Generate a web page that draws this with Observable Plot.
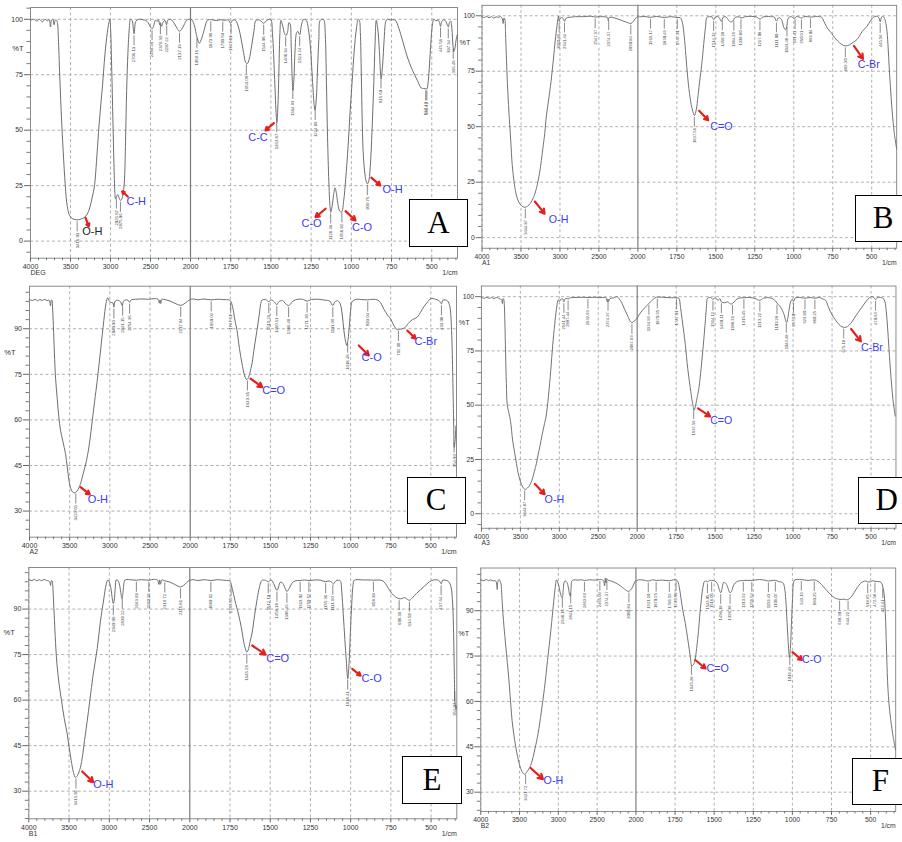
<!DOCTYPE html>
<html><head><meta charset="utf-8">
<script src="https://cdn.jsdelivr.net/npm/d3@7"></script>
<script src="https://cdn.jsdelivr.net/npm/@observablehq/plot@0.6"></script>
<style>
html,body{margin:0;padding:0;background:#fff;}
#page{position:relative;width:902px;height:842px;overflow:hidden;background:#fff;font-family:"Liberation Sans",Arial,sans-serif;}
.panel{position:absolute;}
.panel svg text{font-family:"Liberation Sans",Arial,sans-serif;}
.letter{position:absolute;border:1.2px solid #000;background:#fff;font-family:"Liberation Serif","Times New Roman",serif;font-size:31px;display:flex;align-items:center;justify-content:center;box-sizing:border-box;color:#000;}
</style></head><body><div id="page"></div><script>
// ---------- Panel A (DEG) ----------
const wnA = [4000,3960,3920,3890,3850,3820,3790,3765,3750,3738,3720,3705,3692,3675,3662,3650,3632,3612,3592,3565,3540,3510,3470,3420,3380,3330,3290,3260,3230,3200,3175,3150,3125,3100,3070,3040,3020,3008,2998,2985,2970,2957,2945,2937,2922,2909,2892,2875,2858,2840,2825,2812,2798,2782,2765,2750,2730,2715,2706,2697,2685,2650,2600,2560,2530,2500,2480,2460,2440,2415,2400,2385,2376,2362,2345,2320,2300,2285,2260,2235,2200,2165,2137,2110,2080,2050,2020,2000,1990,1975,1960,1945,1930,1912,1895,1870,1840,1810,1790,1765,1751,1738,1720,1700,1685,1670,1657,1647,1635,1620,1605,1594,1570,1545,1525,1502,1490,1478,1468,1463,1457,1450,1444,1438,1425,1415,1406,1396,1388,1381,1374,1368,1363,1357,1350,1340,1332,1321,1310,1296,1280,1268,1255,1242,1232,1226,1218,1210,1202,1194,1180,1170,1162,1155,1148,1140,1133,1128,1120,1110,1102,1094,1084,1072,1060,1048,1035,1020,1008,995,982,968,957,950,944,938,932,925,915,908,900,892,884,876,868,860,853,845,836,826,815,806,796,786,777,760,740,725,705,680,652,620,590,565,550,537,530,522,512,503,495,487,475,460,452,445,438,425,412,404,397,390,382,375,368,362,356,348,341];
const tA = [99.5,100,99.2,100,98.8,100,99.3,99.8,96.5,99.5,100,97.5,99.5,99.6,98,90,72,55,41,25,15.5,11.5,10,9.6,9.8,10.6,12.2,15,19.5,25,36,49,60,70,84,94,98.5,100,95,78,55,35,22,19,20.3,21,19.5,18.3,19,22,28,45,68,85,96,100,99.5,96,93.4,96,99,100,99.8,99.5,98.5,96.5,95.7,97,99.5,99,99.8,97.5,98.5,96.8,98.5,99.5,97.5,99.5,100,99.6,98,95.8,94.6,95.5,97.5,99.5,100,100,99.6,97,92,89.2,91.5,96,99.5,99.8,99.4,99.8,99.5,99.7,98.2,99.6,99.5,96,91,85,80.5,80,82,88,95,99.4,99.6,98.2,99.5,100,93,75,58,53.5,60,78,94,99.5,96.5,93.5,92.7,94.5,98.5,98,88,74,68,73,86,94,94.5,93,97.5,100,99.5,96,88,73,62,59,64,78,91,99.5,100,99.5,93,72,47,27,16,13,15.5,21,24,22,17,13.5,13.2,18,28,43,58,72,86,96,100,99.5,94,75,53,38,30,27,25.8,27,32,42,56,72,88,99.5,96,86,73.2,79,91,99,100,99.7,99.8,99.4,96,90,83,77,72.5,69,68.8,68.6,68.6,72,82,92,98,100,99.3,99.6,98.5,96.8,99,99.8,99,97.5,96.5,98.5,99.2,96,88,85.5,87,91,93];
const peaksA = [3416.93,2926.87,2875.96,2706.13,2480.46,2376.30,2297.22,2137.13,1960.16,1873.90,1799.59,1747.81,1653.00,1544.98,1463.87,1408.34,1364.03,1321.24,1224.80,1128.36,1058.92,900.76,815.69,537.43,530.42,445.58,397.34,366.48];
const notesA = [
  {label:"O-H", color:"#222222", x1:3312, y1:10.5, x2:3271, y2:6.6, tx:3354, ty:4.4},
  {label:"C-H", color:"#3c3cf0", x1:2784, y1:20.1, x2:2854, y2:22.4, tx:2800, ty:18.0},
  {label:"C-C", color:"#3c3cf0", x1:1482, y1:53.2, x2:1534, y2:49.9, tx:1641, ty:46.8},
  {label:"C-O", color:"#3c3cf0", x1:1160, y1:14.6, x2:1223, y2:10.8, tx:1310, ty:8.1},
  {label:"C-O", color:"#3c3cf0", x1:1036, y1:13.5, x2:974, y2:9.3, tx:996, ty:6.3},
  {label:"O-H", color:"#3c3cf0", x1:876, y1:28.6, x2:820, y2:25.1, tx:806, ty:23.4}
];

// ---------- Panel B (A1) ----------
const wnB = [4000,3970,3940,3910,3880,3850,3820,3790,3760,3740,3729,3718,3708,3698,3688,3675,3660,3645,3630,3613,3590,3565,3540,3510,3475,3446,3415,3380,3340,3300,3260,3220,3195,3177,3150,3114,3085,3060,3040,3025,3019,3011,3000,2980,2960,2941,2925,2900,2850,2800,2700,2600,2547,2500,2420,2390,2380,2370,2330,2280,2230,2180,2130,2091,2060,2030,2005,1990,1960,1919,1880,1830,1790,1747,1728,1715,1703,1692,1680,1665,1650,1637,1626,1614,1602,1591,1578,1566,1557,1540,1525,1514,1500,1480,1465,1452,1435,1418,1405,1392,1375,1350,1338,1310,1270,1240,1217,1195,1150,1125,1111,1098,1080,1065,1053,1044,1035,1015,996,985,965,950,935,910,888,860,835,822,800,780,759,738,718,695,669,645,620,593,560,531,505,490,470,455,445,437,425,412,402,394,388,380,370,355,340];
const tB = [99.5,99.2,99.7,99.1,99.6,98.9,99.5,99.3,99.6,98.7,96.5,99,98.5,92,82,70,60,51,43,33,25.5,20,17,15,13.9,13.7,14.2,15.5,18,22.5,29.5,40,47,54,61,70.4,80,89,95,98.8,99.8,97.5,98.6,99.2,98.8,97.5,98.8,99.2,99.4,99.6,99.6,99.8,99.4,99.6,99.5,99.2,97.8,99.2,99.3,98.8,98.2,97.5,96.9,96.5,97.4,98.8,99.6,99.5,99.7,99.3,99.7,99.2,99.6,99.2,99.1,97,91,82,72,63,57.5,55,57.5,64,71.5,77.6,87,95,99.3,99.6,99.5,98.2,99.6,99.3,97.5,99.4,99.5,98,97.2,97.6,99.3,99.5,99,99.6,99.7,99.5,98.5,99.5,99.6,99.4,97.6,99.1,98.4,95,93.7,95.5,99,99.6,98.6,99.6,99.4,98.9,99.6,99.6,99.4,99.7,99.6,99.4,96.5,94,92.3,90.2,88.6,87.2,86.4,86.8,88,89.4,93,95.2,98,99.3,99.8,99.2,97.2,99.4,99.6,97.5,93,85,77,68,58,47,40];
const peaksB = [3444.87,3010.89,2941.44,2547.97,2374.37,2090.84,1919.17,1830.49,1747.31,1637.56,1514.12,1458.18,1384.39,1338.80,1217.08,1111.00,1043.48,991.41,950.91,893.04,669.30,445.56];
const notesB = [
  {label:"C=O", color:"#3c3cf0", x1:1607, y1:57.2, x2:1549, y2:52.9, tx:1535, ty:50.2},
  {label:"O-H", color:"#3c3cf0", x1:3322, y1:16.3, x2:3197, y2:10.8, tx:3143, ty:8.2},
  {label:"C-Br", color:"#3c3cf0", x1:614, y1:86.4, x2:556, y2:80.6, tx:589, ty:78.1}
];

// ---------- Panel C (A2) ----------
const wnC = [4000,3960,3930,3900,3870,3840,3810,3780,3760,3745,3739,3731,3722,3714,3703,3690,3675,3655,3635,3614,3585,3552,3530,3510,3485,3460,3440,3410,3380,3365,3330,3290,3250,3219,3190,3157,3115,3075,3048,3027,3010,2990,2962,2950,2937,2915,2890,2865,2846,2830,2800,2770,2754,2735,2680,2600,2520,2450,2400,2385,2376,2366,2352,2300,2250,2200,2160,2118,2080,2040,2010,2000,1980,1950,1920,1869,1830,1790,1760,1748,1735,1720,1708,1693,1677,1663,1649,1640,1628,1615,1600,1584,1570,1560,1553,1530,1510,1495,1475,1460,1448,1425,1405,1386,1370,1345,1300,1271,1245,1200,1160,1130,1111,1097,1080,1065,1052,1042,1032,1024,1016,1008,1000,992,980,960,930,893,860,830,814,790,770,751,730,710,690,670,658,640,615,585,560,540,522,500,470,448,434,425,410,395,382,372,364,358,354,349,344];
const tC = [99.6,99.3,99.7,99.2,99.6,99.3,99.7,99.2,99.5,98.6,97.5,99.3,99.5,97.5,91,82,73.5,67,61,56.6,53,48.9,44.5,40.3,37.3,36.2,36,36.5,38,39,42.5,46.7,53,59.8,66,73,83,92.7,98.3,100.2,99.3,98.7,98.5,97.1,98.9,99.4,99.3,98.8,97.6,99.1,99.5,99.3,98.7,99.5,99.7,99.8,99.7,99.9,99.7,98.4,99.5,98.3,99.7,99.5,99.1,98.5,98,97.7,98.1,98.9,99.5,99.6,99.8,99.5,99.8,99.5,99.7,99.6,99.5,99.1,97,92.5,89.4,83.5,78.5,75,73.3,73.6,75.5,78.5,84,89.4,94.5,98.3,99.4,99.6,98.9,99.5,98.8,97.9,98.9,99.3,98.2,97.6,98.5,99.5,99.7,99.1,99.6,99.7,99.4,99.1,97.6,98.9,99.2,98.2,94.5,89.5,86,84.5,86.5,91,96,98.8,99.4,99.7,99.6,99.5,99.7,99.4,98.6,96.2,94.5,93.3,91,89.7,89.8,90.2,90.5,91.8,93,93.8,95.8,97.5,98.7,99.9,99.7,99.2,98.2,99.4,99.5,99.1,97.5,91,76,60,51,53,58];
const peaksC = [3423.65,2949.90,2841.15,2754.36,2117.84,1869.02,1747.51,1643.35,1510.26,1460.11,1386.48,1271.30,1111.00,1018.48,893.04,702.08,433.98,354.90];
const notesC = [
  {label:"C=O", color:"#3c3cf0", x1:1624, y1:73.6, x2:1551, y2:70.8, tx:1551, ty:69.7},
  {label:"C-O", color:"#3c3cf0", x1:949, y1:84.5, x2:887, y2:81.2, tx:932, ty:80.5},
  {label:"C-Br", color:"#3c3cf0", x1:647, y1:89.4, x2:595, y2:86.7, tx:602, ty:85.9},
  {label:"O-H", color:"#3c3cf0", x1:3365, y1:37.9, x2:3250, y2:35.5, tx:3274, ty:33.8}
];

// ---------- Panel D (A3) ----------
const wnD = [4000,3960,3930,3900,3870,3840,3810,3780,3755,3740,3731,3722,3714,3706,3699,3690,3680,3668,3648,3626,3600,3575,3550,3530,3501,3470,3440,3410,3380,3356,3320,3295,3273,3250,3220,3190,3169,3140,3110,3085,3060,3038,3020,3010,2995,2975,2955,2941,2925,2900,2887,2860,2800,2700,2632,2550,2450,2400,2385,2376,2366,2350,2300,2260,2235,2200,2160,2120,2090,2067,2040,2010,1980,1950,1920,1895,1877,1830,1790,1747,1733,1722,1712,1700,1691,1676,1660,1645,1634,1624,1614,1603,1590,1576,1562,1555,1549,1530,1514,1500,1482,1470,1460,1440,1420,1400,1388,1370,1350,1315,1280,1245,1213,1190,1150,1121,1103,1083,1068,1058,1049,1041,1034,1025,1015,1006,997,987,960,923,890,860,830,805,791,775,760,740,715,695,671,650,630,610,585,560,530,510,498,482,470,458,440,425,412,402,394,385,372,360,345];
const tD = [99.6,99.3,99.7,99.2,99.6,99.1,99.6,99.3,98.8,98.6,96.8,99.1,98.8,96,88,74,60,50,46.5,42.5,34,28.5,23,19,15,12.3,11.2,11.8,13.2,15,19.5,23,27,31,36.5,41.5,45,54,66,77.6,87,94,98,98.6,97.8,99,98.9,97.6,99,99.2,98.9,99.5,99.6,99.7,99.6,99.7,99.6,99.4,97.6,98.9,97.8,99.1,99.5,100,99.2,97.3,94,91,88.7,88,88.8,89.6,92.5,95,97.2,99,99.7,99.7,99.5,99.5,99.3,95,89.5,83,77.6,67,58.2,51,47.8,50.5,54,58.5,67,77.6,89.5,96,99.3,99.6,98.8,99.5,98.3,99.1,97.6,97.2,97.6,96.6,96.9,98.3,99.3,99.5,99.6,99.2,98.3,99.3,99.5,98.6,97,95.5,93.5,91.8,89.3,88.1,90,94.3,97.8,98.8,97.8,99.3,99.6,99.3,99.6,99.3,99.6,98.8,98.3,95.5,93,90.5,88,86.5,85.8,86.3,87.7,89.8,92.5,95,98,99.5,100,99.6,98.6,99.7,99.6,99.4,98,93,86,76,63,53,45];
const peaksD = [3444.87,2941.44,2887.44,2632.63,2374.37,2067.69,1924.96,1870.95,1747.51,1637.56,1514.12,1460.11,1388.39,1315.45,1213.22,1103.28,1043.48,997.20,923.80,860.25,675.18,470.63];
const notesD = [
  {label:"C=O", color:"#3c3cf0", x1:1610, y1:48.5, x2:1532, y2:44.8, tx:1532, ty:43},
  {label:"C-Br", color:"#3c3cf0", x1:628, y1:85.1, x2:565, y2:79.4, tx:565, ty:76.6},
  {label:"O-H", color:"#3c3cf0", x1:3314, y1:13.7, x2:3189, y2:9.0, tx:3189, ty:6.4}
];

// ---------- Panel E (B1) ----------
const wnE = [4000,3960,3930,3900,3870,3840,3810,3780,3755,3738,3730,3721,3712,3704,3697,3685,3668,3649,3622,3594,3560,3523,3498,3473,3445,3420,3395,3370,3358,3330,3308,3275,3242,3200,3150,3110,3068,3040,3018,3000,2980,2963,2950,2938,2926,2914,2895,2875,2858,2842,2830,2818,2805,2750,2663,2600,2509,2450,2400,2384,2374,2364,2348,2310,2260,2200,2150,2115,2080,2040,2010,2000,1980,1950,1910,1869,1830,1790,1760,1750,1735,1720,1708,1696,1680,1664,1652,1645,1637,1625,1612,1597,1581,1566,1552,1530,1512,1495,1475,1465,1457,1448,1438,1425,1410,1396,1383,1365,1345,1314,1285,1259,1220,1185,1155,1135,1117,1106,1092,1075,1064,1055,1046,1036,1027,1018,1010,1002,993,986,978,960,920,880,858,825,800,785,765,745,720,698,680,664,650,634,615,590,565,540,510,484,460,447,437,428,410,390,376,366,360,355,351,346,341];
const tE = [99.7,99.4,99.8,99.3,99.7,99.3,99.8,99.4,99.3,98.8,97.8,99.3,99.4,98.3,95,88.5,79,71.4,65,59.9,54,48.9,44.3,40.1,36.2,34.5,35.2,36.8,37.9,42,46.7,53,59.9,68.5,77,86,93.4,98,99.6,98.9,96.8,93.5,91.8,93,97.2,99.6,99.5,98.3,95.5,93.4,95.5,98.5,99.6,99.7,99.5,99.7,99.5,99.8,99.5,98.1,99.6,98.2,99.6,99.3,99,98.3,97.6,97.3,97.7,98.7,99.4,99.5,99.7,99.4,99.7,99.4,99.7,99.5,99.4,99.2,96.5,93,90.5,88,84,79,76.5,75.8,76.5,79.3,82.4,88,93.4,97.4,99.4,99.5,99,99.6,98,96.6,96.2,97.3,98.8,98.7,97.2,95.8,96.7,98.5,99.3,99.4,99.6,99.4,99.6,99.5,99,99.3,98.8,98.3,99.3,99.5,99.3,95.5,88.5,80,73,67,72,82,92,97.5,99.5,99.7,99.6,99.6,99.5,99.6,99.3,98.5,96.8,95.2,94,93.4,93.5,93.8,93.3,92.9,93.8,95.2,96.4,97.6,99,99.6,99.6,99.2,98.3,99.5,99.5,99,97.3,92,82,68,59,57,58];
const peaksE = [3413.92,2949.90,2839.22,2663.69,2509.28,2310.72,2115.81,1869.02,1743.65,1645.28,1512.19,1458.18,1396.46,1313.92,1259.52,1155.36,1111.00,1018.41,858.39,698.30,634.59,437.64,352.97];
const notesE = [
  {label:"C=O", color:"#3c3cf0", x1:1612, y1:78, x2:1529, y2:75, tx:1525, ty:73.6},
  {label:"C-O", color:"#3c3cf0", x1:990, y1:70.3, x2:938, y2:68.1, tx:932, ty:67.3},
  {label:"O-H", color:"#3c3cf0", x1:3337, y1:36.5, x2:3200, y2:33, tx:3200, ty:32.2}
];

// ---------- Panel F (B2) ----------
const wnF = [4000,3960,3930,3900,3870,3840,3815,3800,3788,3777,3762,3748,3738,3733,3724,3714,3700,3680,3658,3640,3625,3610,3596,3565,3534,3500,3470,3437,3400,3370,3346,3300,3262,3220,3179,3140,3096,3060,3040,3025,3010,2990,2970,2950,2936,2925,2913,2890,2870,2857,2846,2836,2826,2800,2760,2700,2663,2600,2520,2465,2420,2405,2395,2386,2378,2360,2320,2280,2240,2200,2150,2120,2094,2070,2040,2015,1995,1970,1940,1921,1895,1870,1830,1786,1760,1743,1733,1722,1712,1700,1684,1670,1659,1650,1643,1632,1622,1612,1600,1591,1578,1568,1563,1548,1543,1530,1516,1495,1478,1468,1458,1449,1440,1425,1412,1399,1388,1375,1355,1314,1259,1210,1170,1153,1130,1109,1085,1060,1050,1042,1034,1025,1019,1013,1006,999,993,985,965,943,900,860,837,815,790,765,740,720,703,690,670,655,641,625,605,585,565,548,530,518,500,485,472,455,440,430,422,414,406,399,392,384,372,355,341];
const tF = [100.2,99.9,100.3,99.9,100.2,99.8,100,99.4,97,99.9,100.3,99.5,98.8,97,93,89,84.5,79,72.9,68,63,58,53.6,47.5,42.9,39,36.9,35.9,36.9,38.1,39.6,44.5,49.3,56.5,64.3,73.5,83.6,93,97.7,100.2,99.5,97.8,95.3,94.3,97.3,99.4,99.8,99.4,97.5,95.5,94.8,97.5,99.8,100.2,100.1,100.2,100,100.2,100.1,100.3,100,98.2,100.8,99.2,100.6,100.1,99.8,99.4,98.9,98.2,97.2,96.6,96.4,96.8,98,99.5,100,100.2,100,99.8,100.2,100,100.1,99.9,100.2,100.2,99.7,97.5,94,90,85.7,81,77.1,73.8,71.8,72.2,73.9,77.5,83.5,89,95.5,98.8,99.6,99.8,99.5,100,100,99.8,98.8,97,95.9,97.5,99.3,99,97.5,95.9,96.5,98.5,99.6,100,100,100.3,100,99.8,100,100,99.6,99.2,97.5,93.5,86,78,74.5,77.5,86,94,99.2,100.2,100.3,100.3,100,100.2,99.7,98.7,97.2,95.8,94.6,94,93.8,93.7,93.8,93.6,93.8,94.5,96,97.7,99,99.6,99.8,99.5,99.6,99.9,99.7,99.6,99.6,99.1,97.8,95.5,89,78,67,60,54,48,44];
const peaksF = [3421.72,2948.16,2841.15,2663.69,2465.03,2374.37,2090.84,1921.10,1870.95,1786.59,1743.58,1645.28,1543.05,1516.05,1458.18,1398.38,1313.92,1259.52,1153.43,1109.07,1016.49,943.19,860.25,698.30,644.22,518.65,472.58,422.41];
const notesF = [
  {label:"C=O", color:"#3c3cf0", x1:1621, y1:73.7, x2:1555, y2:70.9, tx:1549, ty:70.7},
  {label:"C-O", color:"#3c3cf0", x1:1000, y1:76.3, x2:938, y2:73.7, tx:938, ty:73.7},
  {label:"O-H", color:"#3c3cf0", x1:3358, y1:38, x2:3198, y2:34.3, tx:3190, ty:33.7}
];

// ---------- axis tick values ----------
const xMajor = [4000,3500,3000,2500,2000,1750,1500,1250,1000,750,500];
const yTicks100 = [0,25,50,75,100];
const yTicks90 = [30,45,60,75,90];

function tAt(ws, ts, w) {
  for (let i = 0; i < ws.length - 1; i++) {
    if (w <= ws[i] && w >= ws[i+1]) {
      const f = (ws[i] - w) / (ws[i] - ws[i+1]);
      return ts[i] + (ts[i+1] - ts[i]) * f;
    }
  }
  return ts[ts.length - 1];
}

function panel(cfg) {
  const data = cfg.wn.map((w, i) => ({wn: w, t: cfg.t[i]}));
  const ppu = (cfg.height - cfg.mb - cfg.mt) / (cfg.yDomain[1] - cfg.yDomain[0]);
  const peaks = cfg.peaks.map(w => ({wn: w, t: tAt(cfg.wn, cfg.t, w)}));
  const xMinor = d3.range(3900, 2000, -100).concat(d3.range(1950, 340, -50)).filter(v => !xMajor.includes(v));
  const yMinor = d3.range(cfg.yMinorStart, cfg.yDomain[1], cfg.yMinorStep).filter(v => !cfg.yTicks.includes(v) && v > cfg.yDomain[0]);
  const fs = "'Liberation Sans', Arial, sans-serif";
  return Plot.plot({
    width: 460, height: cfg.height,
    marginLeft: cfg.xRange[0], marginRight: 460 - cfg.xRange[2], marginTop: cfg.mt, marginBottom: cfg.mb,
    x: {type: "linear", domain: [4000, 2000, 340], range: cfg.xRange},
    y: {type: "linear", domain: cfg.yDomain},
    color: {type: "identity"},
    style: {fontFamily: fs, background: "transparent", overflow: "visible", color: "#444"},
    marks: [
      Plot.gridX({ticks: xMajor.filter(v => v !== 2000), stroke: "#b0b0b0", strokeOpacity: 1, strokeDasharray: "3,2.5"}),
      Plot.gridY({ticks: cfg.yTicks, stroke: "#b0b0b0", strokeOpacity: 1, strokeDasharray: "3,2.5"}),
      Plot.ruleX([2000], {stroke: "#7a7a7a", strokeWidth: 1.2}),
      Plot.frame({stroke: "#8a8a8a"}),
      Plot.axisX({ticks: xMajor, tickSize: 4, tickPadding: 2, fontSize: 7, stroke: "#666", fill: "#333", label: null, tickFormat: d => String(d)}),
      Plot.axisX({ticks: xMinor, tickSize: 2.5, text: null, stroke: "#777", label: null}),
      Plot.axisY({ticks: cfg.yTicks, tickSize: 6, tickPadding: 1.5, fontSize: 7, stroke: "#666", fill: "#333", label: null, tickFormat: d => String(d)}),
      Plot.axisY({ticks: yMinor, tickSize: 3.5, text: null, stroke: "#777", label: null}),
      Plot.line(data, {x: "wn", y: "t", stroke: "#6e6e6e", strokeWidth: 1, curve: "catmull-rom"}),
      Plot.ruleX(peaks, {x: "wn", y1: d => d.t, y2: d => d.t - 10 / ppu, dy: 2, stroke: "#555", strokeWidth: 0.7}),
      Plot.text(peaks, {x: "wn", y: "t", text: d => d.wn.toFixed(2), rotate: -90, textAnchor: "end", dy: 13, fontSize: 4.3, fill: "#444"}),
      Plot.arrow(cfg.notes, {x1: "x1", y1: "y1", x2: "x2", y2: "y2", stroke: "#e61e1e", strokeWidth: 2.2, headLength: 6}),
      Plot.text(cfg.notes, {x: "tx", y: "ty", text: "label", fill: "color", fontSize: 11, textAnchor: "start"}),
      Plot.text([{t: cfg.pctT}], {y: "t", text: () => "%T", frameAnchor: "left", dx: cfg.pctDx, textAnchor: "end", fontSize: 7.5, fill: "#333"}),
      Plot.text([cfg.sample], {text: d => d, frameAnchor: "bottom-left", dy: 17, textAnchor: "start", fontSize: 7, fill: "#333"}),
      Plot.text(["1/cm"], {text: d => d, frameAnchor: "bottom-right", dy: 17, textAnchor: "end", fontSize: 7, fill: "#333"})
    ]
  });
}

const panels = [
  {left: 0, top: 0, height: 285, mt: 7, mb: 27.3, xRange: [30, 190, 457], yDomain: [-7.7, 105.3], yTicks: yTicks100, yMinorStart: -5, yMinorStep: 5, pctT: 87, pctDx: -7, sample: "DEG", wn: wnA, t: tA, peaks: peaksA, notes: notesA, letter: "A", box: [409, 199, 59, 48]},
  {left: 455, top: 0, height: 285, mt: 5, mb: 30, xRange: [27.3, 187.7, 454], yDomain: [-4.8, 104.7], yTicks: yTicks100, yMinorStart: -5, yMinorStep: 5, pctT: 88, pctDx: -12, sample: "A1", wn: wnB, t: tB, peaks: peaksB, notes: notesB, letter: "B", box: [855, 194.5, 56, 47.5]},
  {left: 0, top: 280, height: 285, mt: 5.7, mb: 28.3, xRange: [29, 189.7, 456], yDomain: [21.4, 104], yTicks: yTicks90, yMinorStart: 21, yMinorStep: 3, pctT: 82.3, pctDx: -14, sample: "A2", wn: wnC, t: tC, peaks: peaksC, notes: notesC, letter: "C", box: [406.7, 476.7, 59, 47.6]},
  {left: 455, top: 280, height: 285, mt: 5.7, mb: 30, xRange: [26.7, 187, 453.3], yDomain: [-6.7, 104.9], yTicks: yTicks100, yMinorStart: -5, yMinorStep: 5, pctT: 88, pctDx: -12, sample: "A3", wn: wnD, t: tD, peaks: peaksD, notes: notesD, letter: "D", box: [858.3, 476.7, 57, 47.6]},
  {left: 0, top: 562, height: 280, mt: 5, mb: 23.7, xRange: [28.3, 189.3, 456.3], yDomain: [20.9, 103.7], yTicks: yTicks90, yMinorStart: 21, yMinorStep: 3, pctT: 82.4, pctDx: -14, sample: "B1", wn: wnE, t: tE, peaks: peaksE, notes: notesE, letter: "E", box: [402.3, 755.7, 59.4, 48.3]},
  {left: 455, top: 562, height: 280, mt: 5.7, mb: 23.7, xRange: [26, 185.7, 453], yDomain: [23.6, 104.1], yTicks: yTicks90, yMinorStart: 24, yMinorStep: 3, pctT: 82.5, pctDx: -12, sample: "B2", wn: wnF, t: tF, peaks: peaksF, notes: notesF, letter: "F", box: [852.3, 757.7, 56, 47.3]}
];

const page = document.getElementById("page");
for (const cfg of panels) {
  const div = document.createElement("div");
  div.className = "panel";
  div.style.left = cfg.left + "px";
  div.style.top = cfg.top + "px";
  div.appendChild(panel(cfg));
  page.appendChild(div);
}
for (const cfg of panels) {
  const b = document.createElement("div");
  b.className = "letter";
  b.style.left = cfg.box[0] + "px";
  b.style.top = cfg.box[1] + "px";
  b.style.width = cfg.box[2] + "px";
  b.style.height = cfg.box[3] + "px";
  b.textContent = cfg.letter;
  page.appendChild(b);
}
</script></body></html>
